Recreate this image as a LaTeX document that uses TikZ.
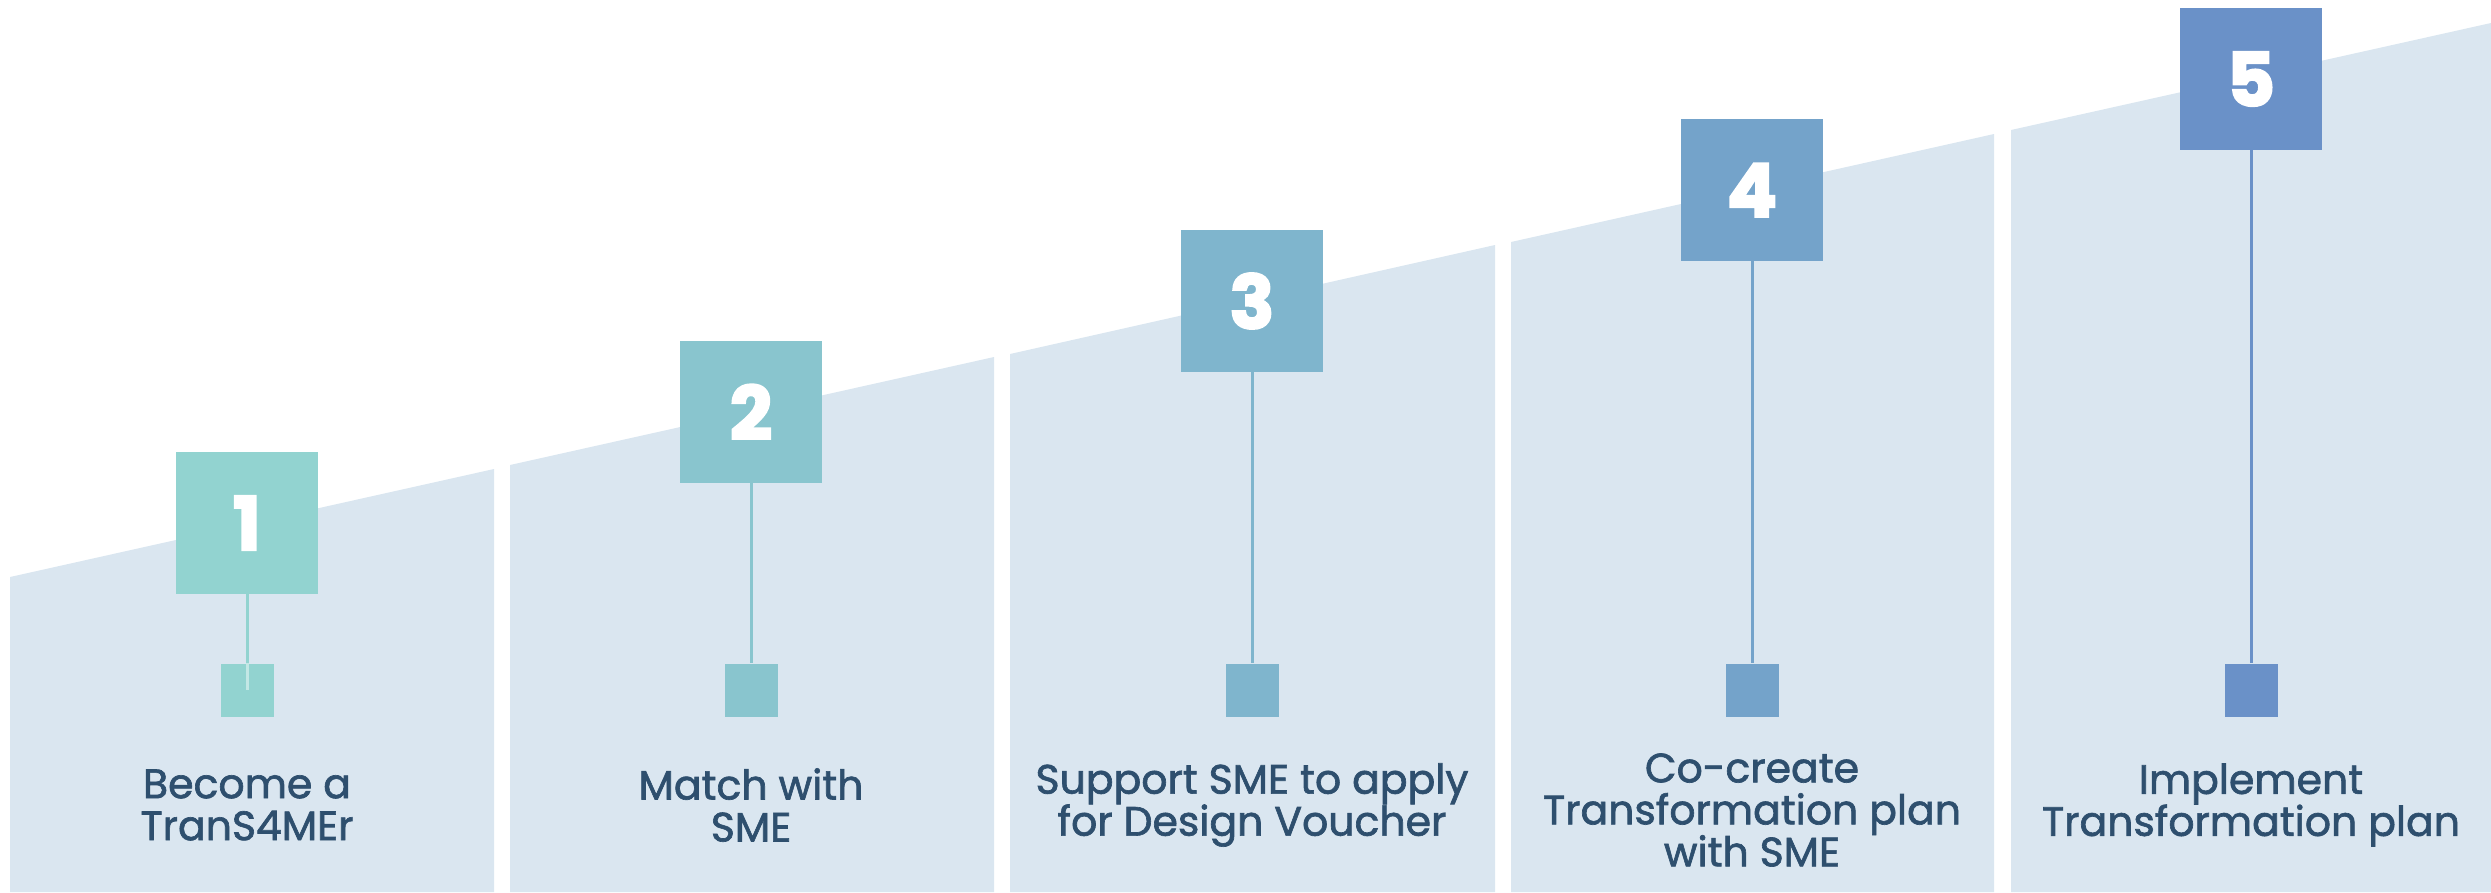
\documentclass[tikz,border=0pt]{standalone}
\usepackage{fontspec}
\setmainfont{Poppins}
\newfontfamily\numfont{Poppins}[FakeBold=3]
\newfontfamily\lblfont{Poppins}[FakeBold=1.6]
\definecolor{cpanel}{HTML}{DAE6F0}
\definecolor{ctext}{HTML}{2E4F6E}
\definecolor{cA}{HTML}{92D3D0}
\definecolor{cB}{HTML}{89C5CE}
\definecolor{cC}{HTML}{7FB5CD}
\definecolor{cD}{HTML}{74A3CA}
\definecolor{cE}{HTML}{6A91C8}
\tikzset{
  panel/.style={fill=cpanel, draw=none},
  bigbox/.style={minimum size=142pt, inner sep=0pt, draw=none, text=white,
    font=\numfont\fontsize{74}{74}\selectfont\bfseries},
  smallbox/.style={minimum size=53pt, inner sep=0pt, draw=none},
  conn/.style={line width=3pt},
  lbl/.style={align=center, text=ctext, inner sep=0pt,
    font=\lblfont\fontsize{41}{42}\selectfont}
}
\begin{document}
\begin{tikzpicture}[x=1pt, y=-1pt]
\useasboundingbox (0,0) rectangle (2491,892);
% panels
\fill[panel] (10,892) -- (10,577) -- (494,469) -- (494,892) -- cycle;
\fill[panel] (510,892) -- (510,465) -- (994,357) -- (994,892) -- cycle;
\fill[panel] (1010,892) -- (1010,354) -- (1495,245) -- (1495,892) -- cycle;
\fill[panel] (1511,892) -- (1511,242) -- (1994,134) -- (1994,892) -- cycle;
\fill[panel] (2011,892) -- (2011,130) -- (2491,23) -- (2491,892) -- cycle;
% step 1
\node[bigbox, fill=cA] (b1) at (247,523) {1};
\node[smallbox, fill=cA] (s1) at (247,690) {};
\draw[conn, cA] (b1) -- (s1);
\draw[conn, cA!55!white] (s1.north) -- (s1.center);
\node[lbl] (t1) at (247,805) {Become a\\TranS4MEr};
% step 2
\node[bigbox, fill=cB] (b2) at (751,412) {2};
\node[smallbox, fill=cB] (s2) at (751,690) {};
\draw[conn, cB] (b2) -- (s2);
\node[lbl] (t2) at (751,805) {Match with\\SME};
% step 3
\node[bigbox, fill=cC] (b3) at (1252,301) {3};
\node[smallbox, fill=cC] (s3) at (1252,690) {};
\draw[conn, cC] (b3) -- (s3);
\node[lbl] (t3) at (1252,805) {Support SME to apply\\for Design Voucher};
% step 4
\node[bigbox, fill=cD] (b4) at (1752,190) {4};
\node[smallbox, fill=cD] (s4) at (1752,690) {};
\draw[conn, cD] (b4) -- (s4);
\node[lbl] (t4) at (1752,810) {Co-create\\Transformation plan\\with SME};
% step 5
\node[bigbox, fill=cE] (b5) at (2251,79) {5};
\node[smallbox, fill=cE] (s5) at (2251,690) {};
\draw[conn, cE] (b5) -- (s5);
\node[lbl] (t5) at (2251,805) {Implement\\Transformation plan};
\end{tikzpicture}
\end{document}
